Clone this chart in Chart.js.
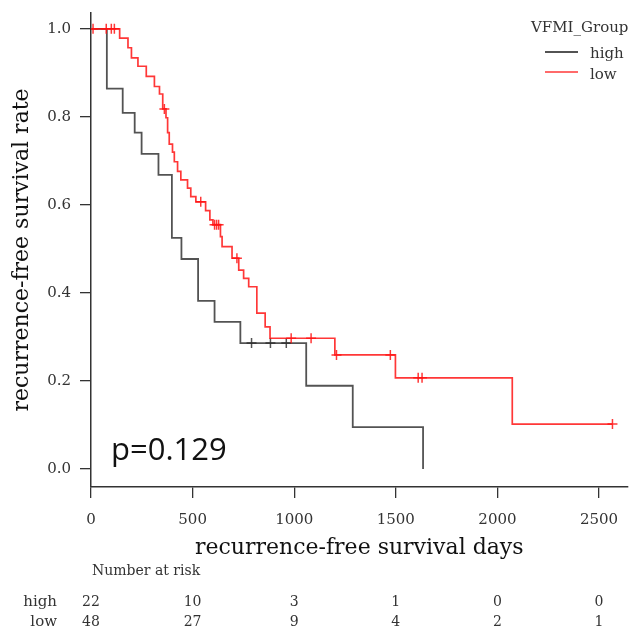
<!DOCTYPE html>
<html>
<head>
<meta charset="utf-8">
<script src="https://cdn.jsdelivr.net/npm/chart.js@4.4.1/dist/chart.umd.min.js"></script>
<style>
  body { margin: 0; background: #fff; }
  #wrap { position: relative; width: 634px; height: 631px; font-family: "DejaVu Serif", serif; color: #333; }
  #wrap div.t { position: absolute; line-height: 1; white-space: nowrap; transform: translateY(-50%); }
  .sw { position: absolute; width: 33px; height: 2px; }
</style>
</head>
<body>
<div id="wrap">
  <canvas id="km" width="634" height="631"></canvas>
</div>
<script>
// Kaplan-Meier: recurrence-free survival by VFMI group
const highTimes = [0, 78, 156, 215, 249, 332, 398, 445, 527, 608, 735, 1059, 1288, 1634];
const highSurv  = [1, 0.864, 0.809, 0.764, 0.716, 0.668, 0.525, 0.477, 0.382, 0.334, 0.286, 0.189, 0.095, 0];
const highCensor = [790, 883, 961];

const lowTimes = [0, 141, 182, 199, 231, 272, 312, 337, 353, 369, 377, 385, 401, 410, 426, 442, 475, 491, 516,
                  564, 585, 600, 637, 645, 694, 727, 751, 776, 816, 857, 881, 1200, 1498, 2073, 2566];
const lowSurv  = [1, 0.979, 0.957, 0.934, 0.915, 0.892, 0.869, 0.852, 0.818, 0.798, 0.764, 0.738, 0.72, 0.698, 0.676, 0.657, 0.638, 0.619, 0.607,
                  0.587, 0.566, 0.555, 0.528, 0.505, 0.479, 0.452, 0.433, 0.414, 0.354, 0.323, 0.297, 0.259, 0.207, 0.102, 0.102];
const lowCensor = [10, 75, 100, 115, 361, 540, 608, 618, 628, 718, 985, 1083, 1208, 1473, 1610, 1629, 2566];

const xTicks = [0, 500, 1000, 1500, 2000, 2500];
const yTicks = [0, 0.2, 0.4, 0.6, 0.8, 1.0];

const groups = ["high", "low"];
const riskHigh = [22, 10, 3, 1, 0, 0];
const riskLow  = [48, 27, 9, 4, 2, 1];
const pValue = "p=0.129";

const HIGH_COL = "rgba(40,40,40,0.8)";
const LOW_COL = "rgba(255,20,20,0.85)";

// level of the step curve at time t
function survAt(times, surv, t) {
    let s = surv[0];
    for (let i = 0; i < times.length; i++) {
        if (times[i] <= t) s = surv[i];
    }
    return s;
}

function steps(times, surv) {
    return times.map((t, i) => ({ x: t, y: surv[i] }));
}

function marks(censor, times, surv) {
    return censor.map(t => ({ x: t, y: survAt(times, surv, t) }));
}

Chart.defaults.font.family = "'DejaVu Serif', serif";
Chart.defaults.color = "#333";

const chart = new Chart("km", {
    type: "line",
    data: {
        datasets: [
            { label: "low", data: steps(lowTimes, lowSurv), stepped: true, borderColor: LOW_COL, borderWidth: 1.7, pointRadius: 0, fill: false },
            { label: "low censored", data: marks(lowCensor, lowTimes, lowSurv), showLine: false, pointStyle: "cross", pointRadius: 5, borderColor: LOW_COL, pointBorderWidth: 1.5 },
            { label: "high", data: steps(highTimes, highSurv), stepped: true, borderColor: HIGH_COL, borderWidth: 1.8, pointRadius: 0, fill: false },
            { label: "high censored", data: marks(highCensor, highTimes, highSurv), showLine: false, pointStyle: "cross", pointRadius: 5, borderColor: HIGH_COL, pointBorderWidth: 1.5 }
        ]
    },
    options: {
        responsive: false,
        animation: false,
        layout: { padding: { top: 13, right: 0, bottom: 70, left: 0 } },
        plugins: { legend: { display: false }, tooltip: { enabled: false } },
        scales: {
            x: {
                type: "linear",
                min: 0,
                max: 2640,
                afterBuildTicks: s => { s.ticks = xTicks.map(v => ({ value: v })); },
                afterFit: s => { s.height = 74; s.paddingLeft = 0; s.paddingRight = 0; },
                ticks: { font: { size: 15 }, padding: 13, maxRotation: 0, callback: v => String(v) },
                grid: { display: true, drawOnChartArea: false, drawTicks: true, tickLength: 11, color: "#333", lineWidth: 1.3 },
                border: { display: true, color: "#333", width: 1.5 },
                title: { display: true, text: "recurrence-free survival days", font: { size: 22 }, color: "#111", padding: { top: 0, bottom: 0 } }
            },
            y: {
                type: "linear",
                min: -0.041,
                max: 1.036,
                afterBuildTicks: s => { s.ticks = yTicks.map(v => ({ value: v })); },
                afterFit: s => { s.width = 91; s.paddingTop = 0; s.paddingBottom = 0; },
                ticks: { font: { size: 15 }, padding: 9, callback: v => v.toFixed(1) },
                grid: { display: true, drawOnChartArea: false, drawTicks: true, tickLength: 11, color: "#333", lineWidth: 1.3 },
                border: { display: true, color: "#333", width: 1.5 },
                title: { display: true, text: "recurrence-free survival rate", font: { size: 22 }, color: "#111", padding: { top: 9, bottom: 0 } }
            }
        }
    }
});

// text around the plot: legend, p-value, number at risk table
const wrap = document.getElementById("wrap");
function addText(txt, x, y, size, align, extra) {
    const d = document.createElement("div");
    d.className = "t";
    d.textContent = txt;
    d.style.fontSize = size + "px";
    d.style.top = y + "px";
    if (align === "center") { d.style.left = x + "px"; d.style.transform = "translate(-50%,-50%)"; }
    else if (align === "right") { d.style.right = (634 - x) + "px"; }
    else { d.style.left = x + "px"; }
    if (extra) Object.assign(d.style, extra);
    wrap.appendChild(d);
}
function addSwatch(col, x, y) {
    const s = document.createElement("div");
    s.className = "sw";
    s.style.left = x + "px";
    s.style.top = (y - 1) + "px";
    s.style.background = col;
    wrap.appendChild(s);
}

addText("VFMI_Group", 531, 27, 15, "left");
addSwatch(HIGH_COL, 545, 52);
addText(groups[0], 590, 53, 15, "left");
addSwatch("rgba(255,90,90,0.9)", 545, 72);
addText(groups[1], 590, 74, 15, "left");

addText(pValue, 111, 448, 31, "left", { fontFamily: "'Open Sans', sans-serif", color: "#111" });

addText("Number at risk", 92, 570, 14, "left");
addText(groups[0], 57, 601, 15, "right");
addText(groups[1], 57, 621, 15, "right");
xTicks.forEach((t, i) => {
    const px = chart.scales.x.getPixelForValue(t);
    addText(String(riskHigh[i]), px, 601, 14, "center");
    addText(String(riskLow[i]), px, 621, 14, "center");
});
</script>
</body>
</html>
